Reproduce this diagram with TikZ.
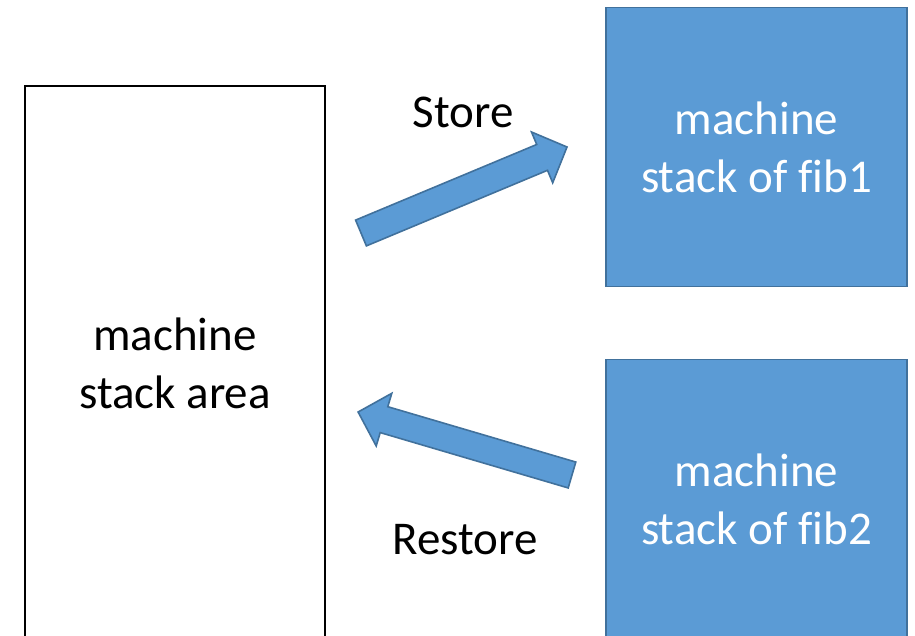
\documentclass[tikz,border=0pt]{standalone}
\usepackage{fontspec}
\setmainfont{Carlito}[Ligatures=CommonOff]
\definecolor{boxblue}{HTML}{5B9BD5}
\definecolor{edgeblue}{HTML}{41719C}
\tikzset{
  label text/.style={font=\fontsize{47}{58}\selectfont, align=center, inner sep=0pt},
  stackbox/.style={draw=edgeblue, fill=boxblue, line width=1.5pt,
    minimum width=301pt, minimum height=279pt, inner sep=0pt,
    text=white, font=\fontsize{47}{58}\selectfont, align=center},
  areabox/.style={draw=black, line width=2.4pt, minimum width=300pt,
    minimum height=554pt, inner sep=0pt},
  blockarrow/.style={draw=edgeblue, fill=boxblue, line width=1.6pt, line join=miter}
}
\begin{document}
\begin{tikzpicture}[x=1pt,y=-1pt]
  \useasboundingbox (0,0) rectangle (915,636);
  \clip (0,0) rectangle (915,636);

  % machine stack area on the left
  \node[areabox] (area) at (175,363) {};
  \node[label text] (areatext) at (area.center) {machine\\stack area};

  % fiber stacks on the right (kern keeps f and i apart)
  \node[stackbox] (fib1) at (756.5,147) {machine\\stack of f\kern0pt ib1};
  \node[stackbox] (fib2) at (756.5,499) {machine\\stack of f\kern0pt ib2};

  % store arrow (area -> fib1)
  \draw[blockarrow] (355.6,220.1) -- (536.7,144.5) -- (531.5,132.0) -- (567,147)
    -- (552.7,182.8) -- (547.5,170.3) -- (366.4,245.9) -- cycle;
  \node[label text] (store) at (463,112) {Store};

  % restore arrow (fib2 -> area)
  \draw[blockarrow] (575.8,462.05) -- (387.8,406.7) -- (391.8,393.3) -- (358.1,412.0)
    -- (376.2,446.0) -- (380.2,432.6) -- (568.2,487.95) -- cycle;
  \node[label text] (restore) at (465,540) {Restore};
\end{tikzpicture}
\end{document}
